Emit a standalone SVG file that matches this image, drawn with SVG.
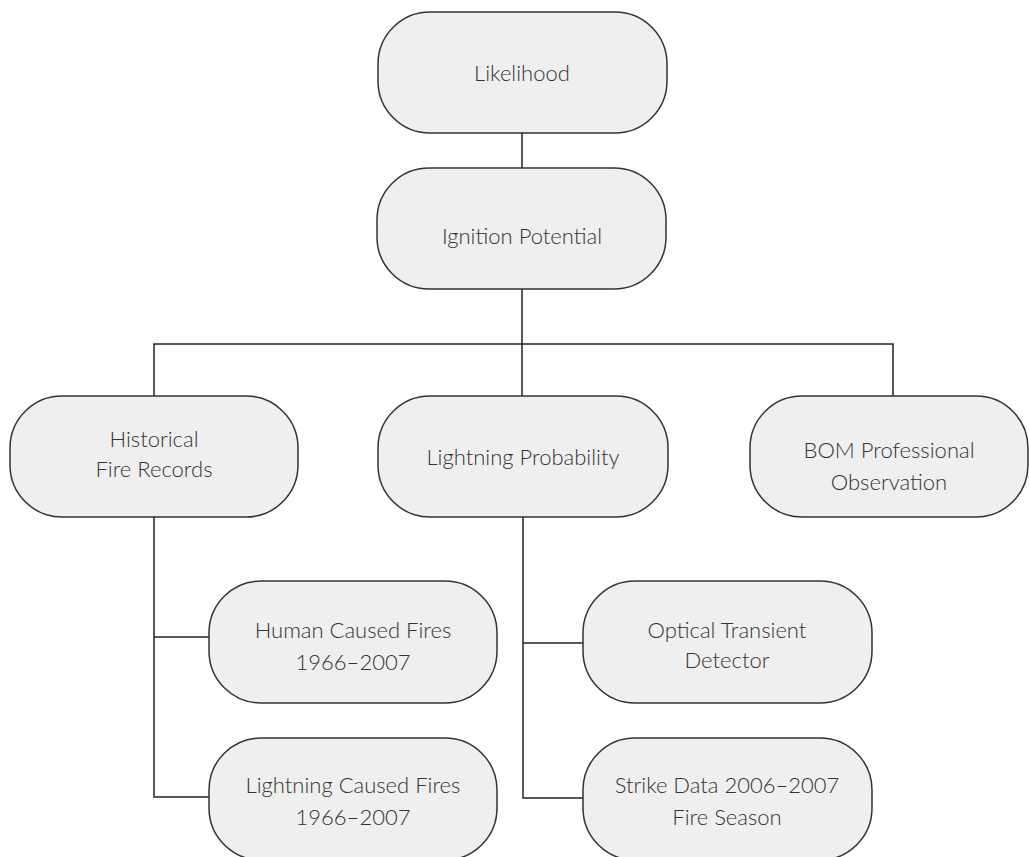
<svg xmlns="http://www.w3.org/2000/svg" width="1029" height="857" viewBox="0 0 1029 857">
<style>
.box{fill:#efefef;stroke:#333;stroke-width:1.5}
.lbl{font-family:Lato,"Open Sans","Liberation Sans",sans-serif;font-size:22px;font-weight:300;fill:#333;text-anchor:middle}
.conn{fill:none;stroke:#222;stroke-width:1.5}
</style>
<rect width="1029" height="857" fill="#fff"/>
<g id="connectors">
<path class="conn" d="M522 133V168"/>
<path class="conn" d="M522 289V344"/>
<path class="conn" d="M154 396V344H893V396"/>
<path class="conn" d="M522 344V396"/>
<path class="conn" d="M154 517V797H209"/>
<path class="conn" d="M154 637H209"/>
<path class="conn" d="M523 517V798H583"/>
<path class="conn" d="M523 643H583"/>
</g>
<g id="likelihood"><rect class="box" x="378" y="12" width="289" height="121" rx="52" ry="52"/><text class="lbl" x="522" y="81">Likelihood</text></g>
<g id="ignition"><rect class="box" x="377" y="168" width="289" height="121" rx="52" ry="52"/><text class="lbl" x="522" y="244">Ignition Potential</text></g>
<g id="historical"><rect class="box" x="10" y="396" width="288" height="121" rx="52" ry="52"/><text class="lbl" x="154" y="447">Historical</text><text class="lbl" x="154" y="477">Fire Records</text></g>
<g id="lightning-prob"><rect class="box" x="378" y="396" width="290" height="121" rx="52" ry="52"/><text class="lbl" x="523" y="465">Lightning Probability</text></g>
<g id="bom"><rect class="box" x="750" y="396" width="278" height="121" rx="52" ry="52"/><text class="lbl" x="889" y="458">BOM Professional</text><text class="lbl" x="889" y="490">Observation</text></g>
<g id="human"><rect class="box" x="209" y="581" width="288" height="122" rx="52" ry="52"/><text class="lbl" x="353" y="638">Human Caused Fires</text><text class="lbl" x="353" y="670">1966–2007</text></g>
<g id="lightning-caused"><rect class="box" x="209" y="738" width="288" height="122" rx="52" ry="52"/><text class="lbl" x="353" y="793">Lightning Caused Fires</text><text class="lbl" x="353" y="825">1966–2007</text></g>
<g id="optical"><rect class="box" x="583" y="581" width="289" height="122" rx="52" ry="52"/><text class="lbl" x="727" y="638">Optical Transient</text><text class="lbl" x="727" y="668">Detector</text></g>
<g id="strike"><rect class="box" x="583" y="738" width="289" height="122" rx="52" ry="52"/><text class="lbl" x="727" y="793">Strike Data 2006–2007</text><text class="lbl" x="727" y="825">Fire Season</text></g>
</svg>
